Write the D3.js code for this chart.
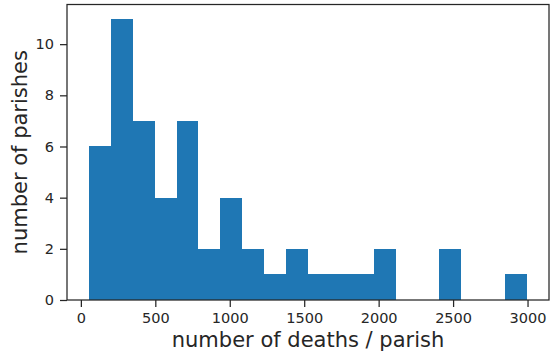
<!DOCTYPE html>
<html>
<head>
<meta charset="utf-8">
<script src="https://cdn.jsdelivr.net/npm/d3@7"></script>
<style>
  html, body { margin: 0; padding: 0; background: #fff; }
  svg { display: block; }
  text { font-family: "DejaVu Sans", sans-serif; fill: #262626; }
</style>
</head>
<body>
<svg id="chart" width="553" height="358"></svg>
<script>
// Histogram of deaths per parish: 20 equal-width bins
const binEdges = [54, 201, 348, 495, 643, 790, 937, 1084, 1231, 1378, 1525,
                  1672, 1820, 1967, 2114, 2261, 2408, 2555, 2702, 2849, 2997];
const binCounts = [6, 11, 7, 4, 7, 2, 4, 2, 1, 2, 1, 1, 1, 2, 0, 0, 2, 0, 0, 1];
const xTicks = [0, 500, 1000, 1500, 2000, 2500, 3000];
const yTicks = [0, 2, 4, 6, 8, 10];
const xLabel = "number of deaths / parish";
const yLabel = "number of parishes";

const bins = binCounts.map((c, i) => ({ x0: binEdges[i], x1: binEdges[i + 1], count: c }));

const svg = d3.select("#chart");
const plot = { left: 67, right: 549, top: 4.5, bottom: 300 };

// 5% padding on each side of the data range
const lo = binEdges[0], hi = binEdges[binEdges.length - 1];
const pad = (hi - lo) * 0.05;
const x = d3.scaleLinear().domain([lo - pad, hi + pad]).range([plot.left, plot.right]);
const yMax = d3.max(binCounts) * 1.05;
const y = d3.scaleLinear().domain([0, yMax]).range([plot.bottom, plot.top]);

svg.append("g")
  .selectAll("rect")
  .data(bins.filter(d => d.count > 0))
  .join("rect")
  .attr("x", d => x(d.x0))
  .attr("width", d => x(d.x1) - x(d.x0))
  .attr("y", d => y(d.count))
  .attr("height", d => y(0) - y(d.count))
  .attr("fill", "#1f77b4")
  .attr("shape-rendering", "crispEdges");

// Axes
const xAxis = d3.axisBottom(x).tickValues(xTicks).tickFormat(d3.format("d"))
  .tickSize(7).tickPadding(5.5);
const yAxis = d3.axisLeft(y).tickValues(yTicks).tickFormat(d3.format("d"))
  .tickSize(7).tickPadding(6);

const gx = svg.append("g").attr("transform", `translate(0,${plot.bottom})`).call(xAxis);
const gy = svg.append("g").attr("transform", `translate(${plot.left},0)`).call(yAxis);
[gx, gy].forEach(g => {
  g.select(".domain").remove();
  g.selectAll(".tick line").attr("stroke", "#262626").attr("stroke-width", 1.25);
  g.selectAll(".tick text").attr("font-family", "DejaVu Sans").attr("font-size", 14.5).attr("fill", "#262626");
});

// Frame around plot area
svg.append("rect")
  .attr("x", plot.left).attr("y", plot.top)
  .attr("width", plot.right - plot.left).attr("height", plot.bottom - plot.top)
  .attr("fill", "none").attr("stroke", "#262626").attr("stroke-width", 1.25);

// Axis titles
svg.append("text")
  .attr("x", (plot.left + plot.right) / 2).attr("y", 346.5)
  .attr("text-anchor", "middle").attr("font-size", 21)
  .text(xLabel);

svg.append("text")
  .attr("transform", `translate(26.5,${(plot.top + plot.bottom) / 2}) rotate(-90)`)
  .attr("text-anchor", "middle").attr("font-size", 21)
  .text(yLabel);
</script>
</body>
</html>
